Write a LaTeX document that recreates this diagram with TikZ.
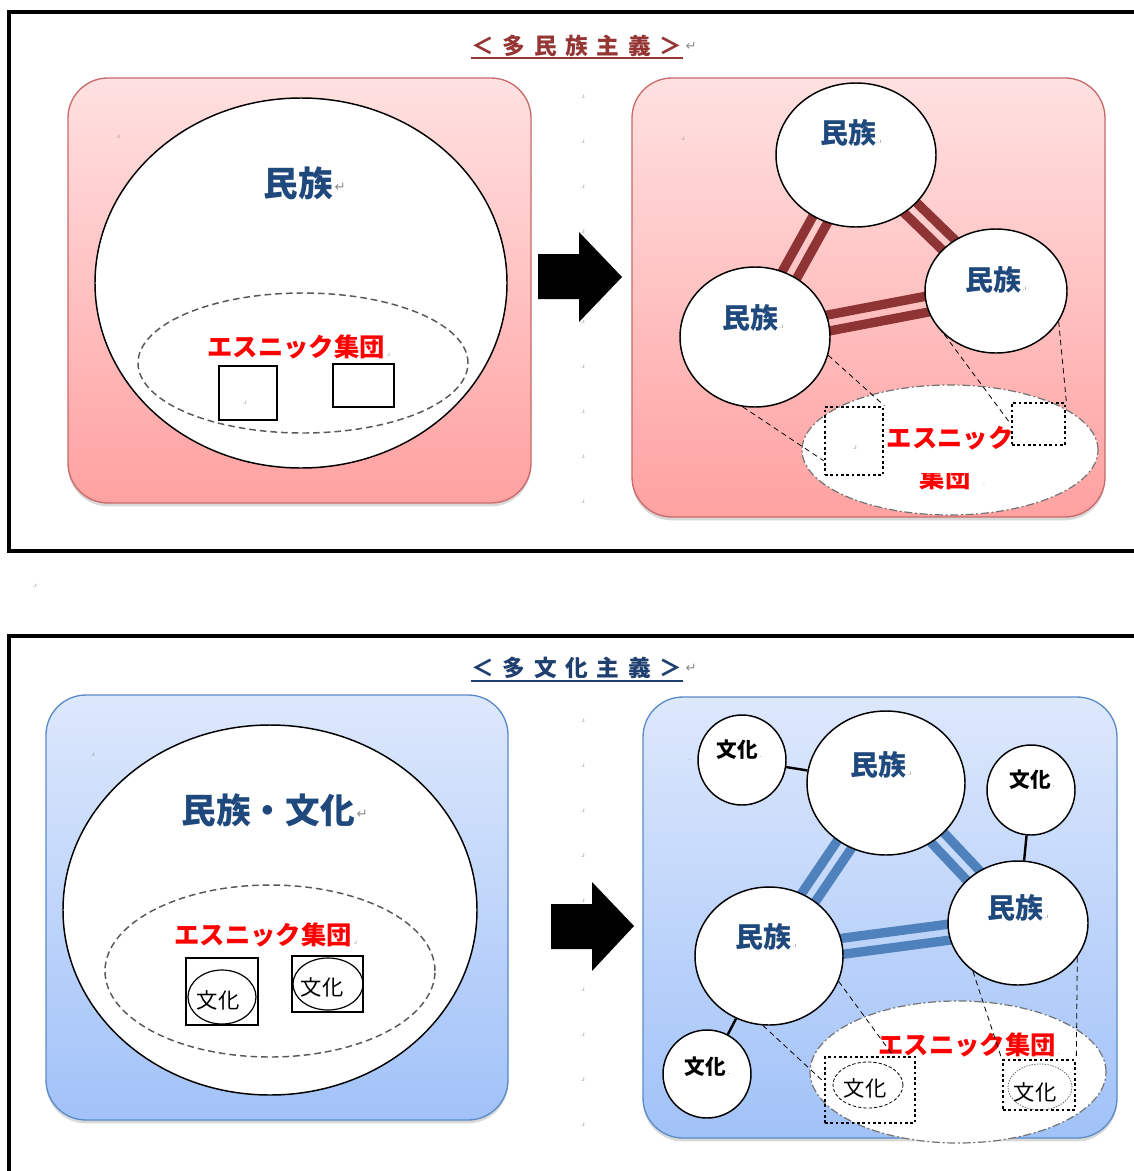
\documentclass[tikz,border=0pt]{standalone}
\usepackage{fontspec}
\usetikzlibrary{shapes.geometric,calc,shadows}
\newfontfamily\jp{Noto Sans CJK JP}
\newfontfamily\sym{DejaVu Sans}
\definecolor{ttlred}{HTML}{943634}
\definecolor{ttlblue}{HTML}{1F3F6E}
\definecolor{lblblue}{HTML}{1F497D}
\definecolor{pinktop}{HTML}{FFE1E1}
\definecolor{pinkbot}{HTML}{FFA1A1}
\definecolor{pinkline}{HTML}{C96B6B}
\definecolor{bluetop}{HTML}{DDE8FC}
\definecolor{bluebot}{HTML}{A1C2F8}
\definecolor{blueline}{HTML}{5B8BC9}
\definecolor{barred}{HTML}{8F3434}
\definecolor{barblue}{HTML}{4F81BD}
\pgfdeclarelayer{panel}
\pgfdeclarelayer{link}
\pgfsetlayers{panel,link,main}
% two parallel bars between the centres of two nodes
\newcommand\barpair[3]{%
  \draw[#3] ($(#1.center)!6pt!90:(#2.center)$) -- ($(#2.center)!6pt!-90:(#1.center)$);
  \draw[#3] ($(#1.center)!6pt!-90:(#2.center)$) -- ($(#2.center)!6pt!90:(#1.center)$);}
\newcommand\tk{\kern6.5pt}
\begin{document}
\begin{tikzpicture}[x=0.75pt,y=-0.75pt,
  ring/.style 2 args={ellipse, draw=black, line width=1.1pt, fill=white, inner sep=0pt,
    minimum width=#1*1.5pt, minimum height=#2*1.5pt},
  dashring/.style 2 args={ellipse, draw=black!65, line width=1.1pt, dash pattern=on 5pt off 3pt,
    inner sep=0pt, minimum width=#1*1.5pt, minimum height=#2*1.5pt},
  lens/.style 2 args={ellipse, fill=white, draw=black!55, line width=0.9pt,
    dash pattern=on 6pt off 2pt on 1.5pt off 2pt, inner sep=0pt,
    minimum width=#1*1.5pt, minimum height=#2*1.5pt},
  dotbox/.style 2 args={rectangle, draw=black, line width=2pt, dash pattern=on 2pt off 2pt,
    inner sep=0pt, minimum width=#1*0.75pt, minimum height=#2*0.75pt},
  solidbox/.style 2 args={rectangle, draw=black, line width=1.2pt, inner sep=0pt,
    minimum width=#1*0.75pt, minimum height=#2*0.75pt},
  thinring/.style 2 args={ellipse, draw=black, line width=0.9pt, inner sep=0pt,
    minimum width=#1*1.5pt, minimum height=#2*1.5pt},
  panelred/.style={rounded corners=30pt, top color=pinktop, bottom color=pinkbot,
    draw=pinkline, line width=1pt, drop shadow={opacity=0.3, shadow xshift=0pt, shadow yshift=-2.5pt}},
  panelblue/.style={rounded corners=30pt, top color=bluetop, bottom color=bluebot,
    draw=blueline, line width=1pt, drop shadow={opacity=0.3, shadow xshift=0pt, shadow yshift=-2.5pt}},
  frame/.style={draw=black, line width=2.3pt},
  redbar/.style={draw=barred, line width=7pt},
  bluebar/.style={draw=barblue, line width=7pt},
  guide/.style={draw=black, line width=0.6pt, dash pattern=on 4pt off 3pt},
  tie/.style={draw=black, line width=1.8pt},
  ttl/.style={font=\jp\bfseries\fontsize{17}{20}\selectfont, inner sep=0pt},
  biglbl/.style={font=\jp\bfseries\fontsize{26}{30}\selectfont, text=lblblue, inner sep=0pt},
  natlbl/.style={font=\jp\bfseries\fontsize{21}{24}\selectfont, text=lblblue, inner sep=0pt},
  ethlbl/.style={font=\jp\bfseries\fontsize{19}{22}\selectfont, text=red, inner sep=0pt},
  culbl/.style={font=\jp\bfseries\fontsize{15.5}{18}\selectfont, text=black, inner sep=0pt},
  culbox/.style={font=\jp\fontsize{16}{18}\selectfont, text=black, inner sep=0pt},
  ret/.style={font=\sym\fontsize{10}{10}\selectfont, text=black!45, inner sep=0pt},
  pm/.style={font=\sym\fontsize{4.5}{5}\selectfont, text=black!50, inner sep=0pt}]

\clip (0,0) rectangle (1134,1171);
\begin{pgfonlayer}{panel}
\fill[white] (0,0) rectangle (1134,1171);
\end{pgfonlayer}

% ---------- outer frames ----------
\draw[frame] (1140,12) -- (9,12) -- (9,551) -- (1140,551);
\draw[frame] (1140,636) -- (9,636) -- (9,1180);
\node[pm] (gap) at (35,586) {.ı};

% ---------- panels and column of cell marks ----------
\begin{pgfonlayer}{panel}
\draw[panelred] (68,78) rectangle (531,503);
\draw[panelred] (632,78) rectangle (1105,517);
\draw[panelblue] (46,695) rectangle (508,1120);
\draw[panelblue] (643,697) rectangle (1117,1138);
\foreach \yy [count=\k] in {97,142,187,232,277,322,367,412,457,502}
  \node[pm] (colA\k) at (583,\yy) {.ı};
\foreach \yy [count=\k] in {721,766,811,856,901,946,990,1035,1080,1125}
  \node[pm] (colB\k) at (583,\yy) {.ı};
\end{pgfonlayer}

% ================= 多民族主義 =================
\node[ttl, text=ttlred] (ttlA) at (577,46) {＜\tk 多\tk 民\tk 族\tk 主\tk 義\tk ＞};
\coordinate (ulA) at (0,58);
\draw[ttlred, line width=1.4pt] (ttlA.west |- ulA) -- (ttlA.east |- ulA);
\node[ret, anchor=west] (retA) at ([xshift=2pt]ttlA.east) {↵};

% left panel
\node[pm] (pA1) at (118,137) {.ı};
\node[ring={206}{185}] (natA) at (301,283) {};
\node[dashring={165}{70}] (ethA) at (303,363) {};
\node[biglbl] (natAl) at (298,183) {民族};
\node[ret, anchor=west] (natAr) at ([xshift=1pt,yshift=-3pt]natAl.east) {↵};
\node[ethlbl] (ethAl) at (296,347) {エスニック集団};
\node[pm, anchor=base west] (ethAm) at ([xshift=1pt]ethAl.base east) {.ı};
\node[solidbox={58}{54}] (sqA1) at (248,393) {};
\node[solidbox={61}{43}] (sqA2) at (363.5,385.5) {};
\node[pm] (sqA1m) at (245,403) {.ı};

% arrow
\fill[black] (538,254) -- (579,254) -- (579,232) -- (622,277) -- (579,322) -- (579,299) -- (538,299) -- cycle;

% right panel
\node[pm] (pA2) at (683,139) {.ı};
\node[ring={80}{72}] (topA) at (856,155) {};
\node[ring={71}{62}] (rgtA) at (996,291) {};
\node[ring={75}{70}] (lftA) at (755,337) {};
\begin{pgfonlayer}{link}
  \barpair{topA}{lftA}{redbar}
  \barpair{topA}{rgtA}{redbar}
  \barpair{lftA}{rgtA}{redbar}
\end{pgfonlayer}
\node[natlbl] (topAl) at (848,133) {民族};
\node[pm, anchor=base west] (topAm) at ([xshift=1pt]topAl.base east) {.ı};
\node[natlbl] (rgtAl) at (993,280) {民族};
\node[pm, anchor=base west] (rgtAm) at ([xshift=1pt]rgtAl.base east) {.ı};
\node[natlbl] (lftAl) at (750,318) {民族};
\node[pm, anchor=base west] (lftAm) at ([xshift=1pt]lftAl.base east) {.ı};

\node[lens={148}{65}] (zoomA) at (950,450) {};
\node[dotbox={58}{68}] (dbA1) at (854,441) {};
\node[dotbox={53}{42}] (dbA2) at (1038.5,424) {};
\node[pm] (dbA1m) at (855,448) {.ı};
\node[ethlbl] (ethBl) at (950,438) {エスニック};
\begin{scope}
  \clip (900,473) rectangle (1000,495);
  \node[ethlbl] (grpA) at (945,478) {集団};
\end{scope}
\node[pm] (grpAm) at (984,485) {.};

\draw[guide] (lftA.-14) -- (dbA1.north east);
\draw[guide] (lftA.-100) -- ($(dbA1.north west)!0.78!(dbA1.south west)$);
\draw[guide] (rgtA.-140) -- (dbA2.west);
\draw[guide] (rgtA.-26) -- (dbA2.north east);

% ================= 多文化主義 =================
\node[ttl, text=ttlblue] (ttlB) at (577,668) {＜\tk 多\tk 文\tk 化\tk 主\tk 義\tk ＞};
\coordinate (ulB) at (0,681);
\draw[ttlblue, line width=1.4pt] (ttlB.west |- ulB) -- (ttlB.east |- ulB);
\node[ret, anchor=west] (retB) at ([xshift=2pt]ttlB.east) {↵};

% left panel
\node[pm] (pB1) at (93,755) {.ı};
\node[ring={207}{185}] (natB) at (270,910) {};
\node[dashring={165}{86}] (ethB) at (270,971) {};
\node[biglbl] (natBl) at (268,810) {民族・文化};
\node[ret, anchor=west] (natBr) at ([xshift=1pt,yshift=-3pt]natBl.east) {↵};
\node[ethlbl] (ethBl2) at (263,935) {エスニック集団};
\node[pm, anchor=base west] (ethBm) at ([xshift=1pt]ethBl2.base east) {.ı};
\node[solidbox={72}{67}] (sqB1) at (222,991.5) {};
\node[thinring={34}{27}] (ovB1) at (222,997) {};
\node[culbox] (cuB1) at (218,1000) {文化};
\node[solidbox={71}{56}] (sqB2) at (327.5,984) {};
\node[thinring={35}{26}] (ovB2) at (328,984) {};
\node[culbox] (cuB2) at (322,987) {文化};

% arrow
\fill[black] (551,904) -- (592,904) -- (592,882) -- (634,926) -- (592,971) -- (592,949) -- (551,949) -- cycle;

% right panel
\node[ring={44}{45}] (cuC1) at (742,760) {};
\node[ring={79}{72}] (topB) at (886,783) {};
\node[ring={44}{45}] (cuC2) at (1031,790) {};
\node[ring={70}{62}] (rgtB) at (1018,923) {};
\node[ring={74}{69}] (lftB) at (769,956) {};
\node[ring={44}{44}] (cuC3) at (707,1074) {};
\begin{pgfonlayer}{link}
  \barpair{topB}{lftB}{bluebar}
  \barpair{topB}{rgtB}{bluebar}
  \barpair{lftB}{rgtB}{bluebar}
\end{pgfonlayer}
\draw[tie] (cuC1) -- (topB);
\draw[tie] (cuC2) -- (rgtB);
\draw[tie] (cuC3) -- (lftB);
\node[pm] (pB2) at (690,760) {.};
\node[culbl] (cuC1l) at (737,750) {文化};
\node[pm, anchor=base west] (cuC1m) at ([xshift=1pt]cuC1l.base east) {.};
\node[culbl] (cuC2l) at (1030,780) {文化};
\node[pm, anchor=base west] (cuC2m) at ([xshift=1pt]cuC2l.base east) {.};
\node[culbl] (cuC3l) at (705,1067) {文化};
\node[pm, anchor=base west] (cuC3m) at ([xshift=1pt]cuC3l.base east) {.};
\node[natlbl] (topBl) at (878,765) {民族};
\node[pm, anchor=base west] (topBm) at ([xshift=1pt]topBl.base east) {.ı};
\node[natlbl] (rgtBl) at (1015,908) {民族};
\node[pm, anchor=base west] (rgtBm) at ([xshift=1pt]rgtBl.base east) {.ı};
\node[natlbl] (lftBl) at (763,937) {民族};
\node[pm, anchor=base west] (lftBm) at ([xshift=1pt]lftBl.base east) {.ı};

\node[lens={148}{71}] (zoomB) at (958,1072) {};
\node[ethlbl] (ethCl) at (967,1045) {エスニック集団};
\node[pm, anchor=base west] (ethCm) at ([xshift=1pt]ethCl.base east) {.};
\node[dotbox={90}{66}] (dbB1) at (870,1090) {};
\node[ellipse, draw=black, line width=0.6pt, dash pattern=on 2.5pt off 1.5pt, inner sep=0pt,
  minimum width=52.5pt, minimum height=34.5pt] (ovC1) at (868,1085) {};
\node[culbox] (cuD1) at (865,1088) {文化};
\node[dotbox={72}{50}] (dbB2) at (1039,1085) {};
\node[ellipse, draw=black!60, line width=0.6pt, dash pattern=on 1pt off 1pt, inner sep=0pt,
  minimum width=48pt, minimum height=34.5pt] (ovC2) at (1040,1087) {};
\node[culbox] (cuD2) at (1035,1092) {文化};

\draw[guide] (lftB.-20) -- ($(dbB1.north west)!0.75!(dbB1.north east)$);
\draw[guide] (lftB.-95) -- ($(dbB1.north west)!0.38!(dbB1.south west)$);
\draw[guide] (rgtB.-133) -- (dbB2.north west);
\draw[guide] (rgtB.-30) -- (dbB2.north east);
\end{tikzpicture}
\end{document}
